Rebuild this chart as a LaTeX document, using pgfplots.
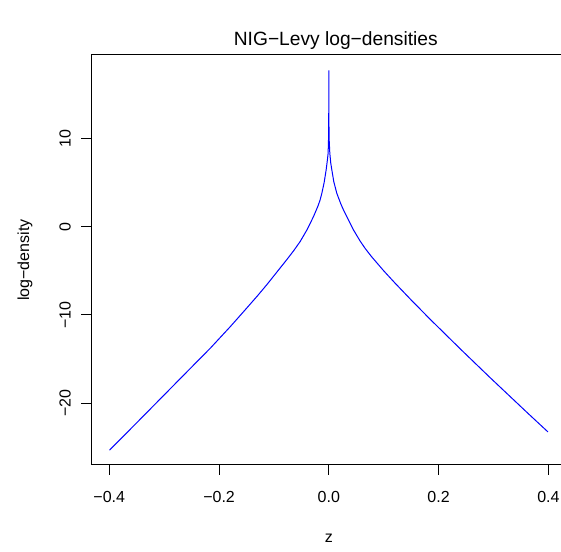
\documentclass[border=0pt]{standalone}
\usepackage{pgfplots}
\pgfplotsset{compat=1.18}
\usepackage{fontspec}
\setmainfont{Liberation Sans}
\begin{document}
\begin{tikzpicture}
\begin{axis}[
  at={(0pt,0pt)}, anchor=south west,
  scale only axis, width=356.0pt, height=307.5pt,
  xmin=-0.4324, xmax=0.4324, ymin=-26.98, ymax=19.43,
  axis line style={line width=0.75pt},
  xtick={-0.4,-0.2,0,0.2,0.4}, xticklabels={−0.4,−0.2,0.0,0.2,0.4},
  ytick={-20,-10,0,10}, yticklabels={−20,−10,0,10},
  xtick pos=lower, ytick pos=left,
  tick align=outside, major tick length=7.5pt,
  tick style={black, line width=0.75pt},
  ticklabel style={font=\fontsize{12}{14}\selectfont},
  xticklabel shift=9pt,
  yticklabel shift=4.5pt,
  yticklabel style={rotate=90, anchor=south},
  xlabel={z}, ylabel={log−density},
  label style={font=\fontsize{12}{14}\selectfont},
  xlabel style={at={(axis description cs:0.5,-0.178)}, anchor=center},
  ylabel style={at={(axis description cs:-0.140,0.5)}, anchor=center},
  title={NIG−Levy log−densities},
  title style={font=\fontsize{14.4}{16}\selectfont, at={(axis description cs:0.5147,1.0146)}, anchor=center},
]
\addplot[blue, line width=0.75pt] coordinates {
(-0.3995,-25.3) (-0.35,-22.2) (-0.30,-19.05) (-0.25,-15.9) (-0.2158,-13.75)
(-0.18,-11.35) (-0.155,-9.6) (-0.13,-7.83) (-0.1127,-6.55) (-0.09,-4.78)
(-0.0764,-3.72) (-0.064,-2.72) (-0.0522,-1.68) (-0.04,-0.38) (-0.028,1.13)
(-0.02,2.3) (-0.016,3.0) (-0.0127,3.78) (-0.0085,5.0) (-0.0049,6.42) (-0.0025,7.6)
(-0.0013,8.31) (-0.0005,10.0) (-0.0002,12.0) (-0.00005,14.5) (-0.00001,17.0)
(0,17.7)
(0.00001,17.0) (0.00005,14.5) (0.0002,12.0) (0.0005,10.0) (0.0018,8.31)
(0.0035,7.2) (0.0055,6.42) (0.009,5.1) (0.0145,3.78) (0.022,2.55) (0.027,1.85)
(0.0327,1.13) (0.045,-0.38) (0.0569,-1.62) (0.066,-2.45) (0.0775,-3.37) (0.10,-5.0)
(0.12,-6.35) (0.15,-8.3) (0.1842,-10.46) (0.241,-13.93) (0.2933,-17.06)
(0.3624,-21.11) (0.3993,-23.24)
};
\end{axis}
\pgfresetboundingbox
\path[use as bounding box] (-68.625pt,-65.25pt) rectangle (352.125pt,348.75pt);
\end{tikzpicture}
\end{document}
